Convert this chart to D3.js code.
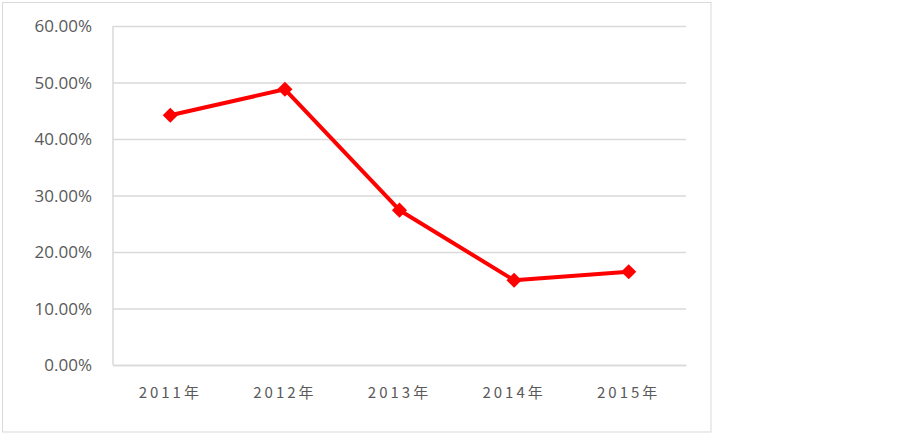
<!DOCTYPE html>
<html><head><meta charset="utf-8">
<script src="https://cdn.jsdelivr.net/npm/d3@7"></script>
<style>
body{margin:0;background:#fff;}
svg{display:block;}
</style></head>
<body>
<script>
const categories = ["2011年","2012年","2013年","2014年","2015年"];
const values = [0.442, 0.488, 0.274, 0.150, 0.165];
const yTicks = [0, 0.1, 0.2, 0.3, 0.4, 0.5, 0.6];

(function(){
const W = 903, H = 434;
const svg = d3.select("body").append("svg").attr("width", W).attr("height", H);

svg.append("rect").attr("x", 2.5).attr("y", 2.5).attr("width", 708.5).attr("height", 429.5)
  .attr("fill", "#fff").attr("stroke", "#d9d9d9").attr("stroke-width", 1);

const pL = 113, pR = 686, pT = 26, pB = 365;
const x = d3.scaleBand().domain(categories).range([pL, pR]);
const y = d3.scaleLinear().domain([0, 0.6]).range([pB, pT]);

const yAxis = d3.axisLeft(y).tickValues(yTicks).tickSize(-(pR-pL)).tickFormat(d3.format(".2%")).tickPadding(20);
const gy = svg.append("g").attr("transform", `translate(${pL},0)`).call(yAxis);
gy.select(".domain").remove();
gy.selectAll(".tick line").attr("stroke", "#d9d9d9").attr("stroke-width", 1.5);
gy.selectAll(".tick text").attr("fill", "#595959").style("font-family", "'Open Sans','Noto Sans',sans-serif")
  .style("font-size", "17px").attr("x", -21).attr("dy", "0.35em");

svg.append("line").attr("x1", pL).attr("x2", pL).attr("y1", pT).attr("y2", pB)
  .attr("stroke", "#d9d9d9").attr("stroke-width", 1.5);

const xAxis = d3.axisBottom(x).tickSize(0).tickPadding(22);
const gx = svg.append("g").attr("transform", `translate(0,${pB})`).call(xAxis);
gx.select(".domain").attr("stroke", "#d9d9d9").attr("stroke-width", 1.5);
gx.selectAll(".tick text").attr("fill", "#595959")
  .style("font-family", "'Noto Sans CJK SC','Noto Sans',sans-serif")
  .style("font-size", "15px").style("letter-spacing", "3px");

const line = d3.line().x((d,i) => x(categories[i]) + x.bandwidth()/2).y(d => y(d));
svg.append("path").datum(values).attr("d", line).attr("fill", "none")
  .attr("stroke", "#ff0000").attr("stroke-width", 4).attr("stroke-linejoin", "round");

const sym = d3.symbol().type(d3.symbolSquare).size(115);
svg.selectAll(".mk").data(values).enter().append("path")
  .attr("d", sym)
  .attr("transform", (d,i) => `translate(${x(categories[i]) + x.bandwidth()/2},${y(d)}) rotate(45)`)
  .attr("fill", "#ff0000");
})();
</script>
</body></html>
